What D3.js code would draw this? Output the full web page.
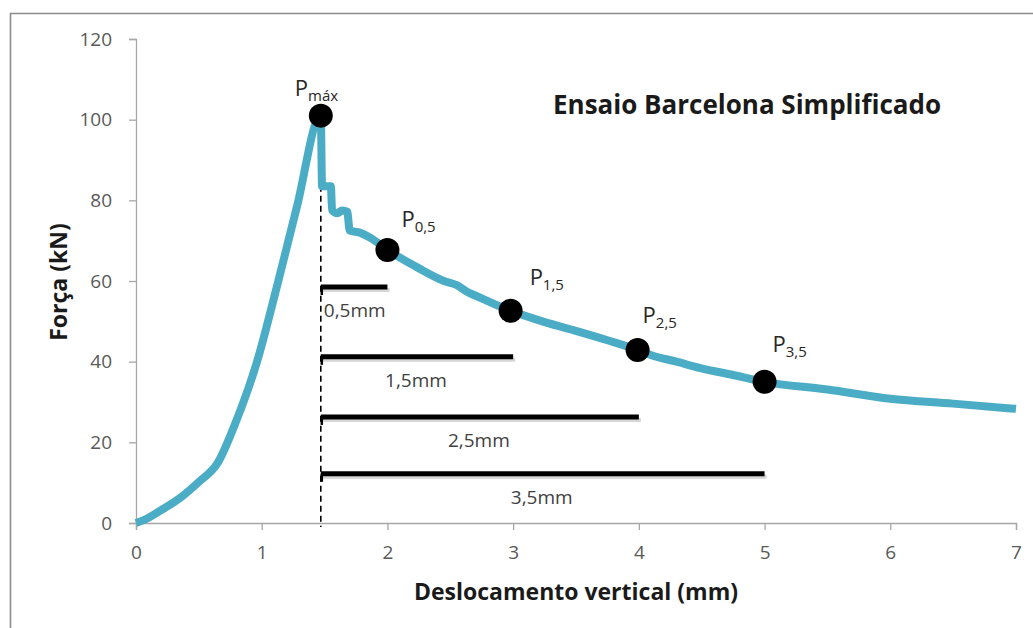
<!DOCTYPE html>
<html>
<head>
<meta charset="utf-8">
<script src="https://cdn.jsdelivr.net/npm/d3@7"></script>
<style>
  body { margin: 0; background: #fff; }
  svg { display: block; font-family: "Open Sans", Lato, sans-serif; }
</style>
</head>
<body>
<div id="chart"></div>
<script>
// curve: displacement (mm) vs force (kN)
const deslocamento = [0, 0.06, 0.2, 0.35, 0.5, 0.65, 0.8, 0.96, 1.12, 1.28, 1.47,
  1.48, 1.55, 1.56, 1.6, 1.64, 1.68, 1.7, 1.78, 1.86, 2.0, 2.23, 2.45, 2.55, 2.62,
  2.75, 2.98, 3.2, 3.48, 3.75, 3.99, 4.1, 4.3, 4.49, 4.75, 5.0, 5.5, 6.0, 6.5, 7.0];
const forca = [0, 0.7, 3.2, 6.2, 10.2, 14.9, 25.5, 39.7, 58.5, 78.4, 101,
  83.5, 83.5, 77.5, 76.8, 77.5, 77.2, 72.5, 72, 70.8, 67.7, 63.5, 60, 59, 57.6,
  55.7, 52.6, 50.3, 47.8, 45.3, 42.9, 41.6, 40, 38.4, 36.7, 35, 33.1, 30.8, 29.6, 28.3];

// marked points
const pontosNome = ["máx", "0,5", "1,5", "2,5", "3,5"];
const pontosX = [1.47, 2.0, 2.98, 3.99, 5.0];
const pontosY = [101, 67.7, 52.6, 42.9, 35];

// distance bars, from the peak displacement
const barrasTexto = ["0,5mm", "1,5mm", "2,5mm", "3,5mm"];
const barrasFim = [2, 3, 4, 5];
const barrasY = [58.5, 41.2, 26.3, 12.2];

const xTicks = [0, 1, 2, 3, 4, 5, 6, 7];
const yTicks = [0, 20, 40, 60, 80, 100, 120];

const width = 1033, height = 628;
const x = d3.scaleLinear().domain([0, 7]).range([136, 1016]);
const y = d3.scaleLinear().domain([0, 120]).range([523, 39]);

const svg = d3.select("#chart").append("svg")
    .attr("width", width)
    .attr("height", height);

svg.append("rect").attr("width", width).attr("height", height).attr("fill", "#fff");

// outer frame of the figure (cut by the picture edges)
svg.append("path")
    .attr("d", `M10.5,${height + 5} V13.5 H${width + 5}`)
    .attr("fill", "none")
    .attr("stroke", "#8c8c8c")
    .attr("stroke-width", 1.6);

// axes
const axisColor = "#a6a6a6";
const labelColor = "#595959";

const yAxis = svg.append("g")
    .attr("transform", `translate(${x(0)},0)`)
    .call(d3.axisLeft(y).tickValues(yTicks).tickSize(7).tickPadding(17).tickSizeOuter(7));
const xAxis = svg.append("g")
    .attr("transform", `translate(0,${y(0)})`)
    .call(d3.axisBottom(x).tickValues(xTicks).tickFormat(d3.format("d"))
      .tickSize(7).tickPadding(16).tickSizeOuter(7));

[xAxis, yAxis].forEach(g => {
  g.selectAll(".domain, line").attr("stroke", axisColor).attr("stroke-width", 1.3);
  g.selectAll("text")
      .attr("fill", labelColor)
      .attr("font-size", 19)
      .attr("font-family", "'Open Sans', sans-serif");
});

// axis titles
svg.append("text")
    .attr("x", 576).attr("y", 600)
    .attr("text-anchor", "middle")
    .attr("font-size", 23).attr("font-weight", "bold")
    .attr("fill", "#1a1a1a")
    .text("Deslocamento vertical (mm)");

svg.append("text")
    .attr("transform", "translate(67,282) rotate(-90)")
    .attr("text-anchor", "middle")
    .attr("font-size", 23).attr("font-weight", "bold")
    .attr("fill", "#1a1a1a")
    .text("Força (kN)");

// chart title
svg.append("text")
    .attr("x", 553).attr("y", 114)
    .attr("font-size", 26).attr("font-weight", "bold")
    .attr("fill", "#1a1a1a")
    .text("Ensaio Barcelona Simplificado");

// dashed line under the peak
svg.append("line")
    .attr("x1", x(pontosX[0])).attr("x2", x(pontosX[0]))
    .attr("y1", y(pontosY[0])).attr("y2", y(0) + 4)
    .attr("stroke", "#000")
    .attr("stroke-width", 1.6)
    .attr("stroke-dasharray", "6,4");

// distance bars with a soft shadow
const barras = barrasTexto.map((t, i) => ({t, fim: barrasFim[i], v: barrasY[i]}));
const gBar = svg.append("g");
gBar.selectAll("line.sombra")
  .data(barras)
  .join("line")
    .attr("class", "sombra")
    .attr("x1", x(pontosX[0]) + 1).attr("x2", d => x(d.fim) + 2)
    .attr("y1", d => y(d.v) + 3).attr("y2", d => y(d.v) + 3)
    .attr("stroke", "#bbb").attr("stroke-width", 4).attr("opacity", 0.6);
gBar.selectAll("line.barra")
  .data(barras)
  .join("line")
    .attr("class", "barra")
    .attr("x1", x(pontosX[0])).attr("x2", d => x(d.fim))
    .attr("y1", d => y(d.v)).attr("y2", d => y(d.v))
    .attr("stroke", "#000").attr("stroke-width", 5);
gBar.selectAll("line.gancho")
  .data(barras)
  .join("line")
    .attr("class", "gancho")
    .attr("x1", x(pontosX[0]) + 1).attr("x2", x(pontosX[0]) + 1)
    .attr("y1", d => y(d.v)).attr("y2", d => y(d.v) + 8)
    .attr("stroke", "#000").attr("stroke-width", 2.5);

// bar labels (first one sits left, the others are centred under the bar)
gBar.selectAll("text")
  .data(barras)
  .join("text")
    .attr("x", (d, i) => i === 0 ? x(pontosX[0]) + 3 : (x(pontosX[0]) + x(d.fim)) / 2 - 1)
    .attr("y", d => y(d.v) + 30)
    .attr("text-anchor", (d, i) => i === 0 ? "start" : "middle")
    .attr("font-size", 19)
    .attr("fill", "#404040")
    .text(d => d.t);

// force-displacement curve
const serie = deslocamento.map((d, i) => [d, forca[i]]);
svg.append("path")
    .datum(serie)
    .attr("fill", "none")
    .attr("stroke", "#4bacc6")
    .attr("stroke-width", 8)
    .attr("stroke-linejoin", "round")
    .attr("d", d3.line().curve(d3.curveMonotoneX).x(d => x(d[0])).y(d => y(d[1])));

// marked points
const pontos = pontosNome.map((n, i) => ({n, px: pontosX[i], py: pontosY[i]}));
svg.append("g").selectAll("circle")
  .data(pontos)
  .join("circle")
    .attr("cx", d => x(d.px))
    .attr("cy", d => y(d.py))
    .attr("r", 12)
    .attr("fill", "#000");

// label offsets (px) relative to each point
const offsets = [[-26, -20], [14, -23], [19, -26], [5, -27], [8, -30]];
const lbl = svg.append("g").selectAll("text")
  .data(pontos)
  .join("text")
    .attr("x", (d, i) => x(d.px) + offsets[i][0])
    .attr("y", (d, i) => y(d.py) + offsets[i][1])
    .attr("fill", "#262626")
    .attr("font-size", 22);
lbl.append("tspan").text("P");
lbl.append("tspan")
    .attr("font-size", 15)
    .attr("dy", 5)
    .text(d => d.n);
</script>
</body>
</html>
